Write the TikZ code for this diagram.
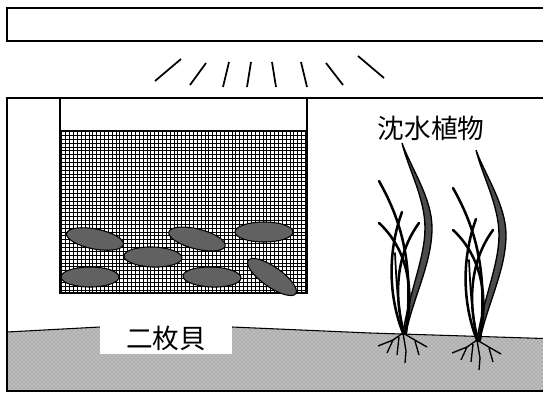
\documentclass[tikz,border=0pt]{standalone}
\usepackage{fontspec}
\newfontfamily\jp{Noto Sans CJK JP}
\usetikzlibrary{patterns}

\tikzset{
  ray/.style={line width=1.3pt},
  clam/.style={draw=black, line width=0.8pt, fill=black!62},
  leaf/.style={line width=1.9pt, line cap=round},
  root/.style={line width=1pt},
  label/.style={font=\jp\fontsize{20}{22}\selectfont, inner sep=0pt},
}

\begin{document}
\begin{tikzpicture}[x=0.75pt, y=-0.75pt]
  \useasboundingbox (0,0) rectangle (543,394);

  % Lamp
  \draw[line width=1.3pt] (7,8) rectangle (560,41);

  % Light rays
  \foreach \xa/\ya/\xb/\yb in {155/81/181/59, 190/85/206/63, 223/87/229/62, 247/87/251/62,
                               276/87/272/62, 307/87/301/62, 343/85/326/63, 384/78/358/56}
    \draw[ray] (\xa,\ya) -- (\xb,\yb);

  % Sediment
  \fill[gray!65] (7,332) -- (100,327) -- (232,327) -- (370,333) -- (560,339) -- (560,391) -- (7,391) -- cycle;
  \fill[pattern=crosshatch dots, pattern color=white] (7,332) -- (100,327) -- (232,327) -- (370,333) -- (560,339) -- (560,391) -- (7,391) -- cycle;
  \draw[line width=0.8pt] (7,332) -- (100,327) -- (232,327) -- (370,333) -- (560,339);

  % Tank
  \draw[line width=1.6pt] (560,98) -- (7,98) -- (7,391) -- (560,391);

  % Mesh cage
  \fill[white] (60,131) rectangle (307,293);
  \begin{scope}
    \clip (60,131) rectangle (307,293);
    \draw[line width=0.6pt, step=2.9pt] (55,125) grid (312,298);
  \end{scope}
  \draw[line width=1pt] (60,131) rectangle (307,293);
  \draw[line width=2.2pt] (60,99) -- (60,131) (307,99) -- (307,131);

  % Clams
  \foreach \cx/\cy/\ang in {95/239/-11, 153/257/-2, 197/239/-14, 264/232/0,
                            90/277/0, 212/277/-2, 272/277/-35}
    \filldraw[clam, rotate around={\ang:(\cx,\cy)}] (\cx,\cy) ellipse (21.75pt and 7.5pt);

  % Plants
  \foreach \dx/\dy in {403/333, 477/340} {
    \begin{scope}[shift={(\dx,\dy)}]
      \filldraw[fill=black!70, line width=1pt] (0,0) .. controls (6,-40) and (22,-75) .. (22,-105)
        .. controls (22,-135) and (5,-165) .. (-1,-190)
        .. controls (8,-165) and (29,-135) .. (29,-105)
        .. controls (29,-70) and (10,-35) .. (3,0) -- cycle;
      \draw[leaf] (-24,-152) .. controls (-5,-118) and (12,-75) .. (3,0);
      \draw[leaf] (-24,-110) .. controls (0,-88) and (14,-50) .. (2,0);
      \draw[leaf] (-1,-121) .. controls (-16,-80) and (-14,-35) .. (0,0);
      \draw[leaf] (16,-110) .. controls (-6,-80) and (-10,-40) .. (1,0);
      \draw[leaf, line width=1.3pt] (-8,-80) .. controls (-6,-40) .. (0,0);
      % Roots
      \draw[root] (0,0) -- (-10,7) -- (-25,13) (-10,7) -- (-16,20)
                  (0,0) -- (3,18) -- (2,30) (0,0) .. controls (10,6) .. (24,14)
                  (12,8) -- (16,22) (-4,4) -- (-6,22);
    \end{scope}
  }

  % Labels
  \node[label] (plants) at (431,128) {沈水植物};
  \node[label, fill=white, minimum width=99pt, minimum height=24pt] (bivalve) at (166,338) {二枚貝};
\end{tikzpicture}
\end{document}
